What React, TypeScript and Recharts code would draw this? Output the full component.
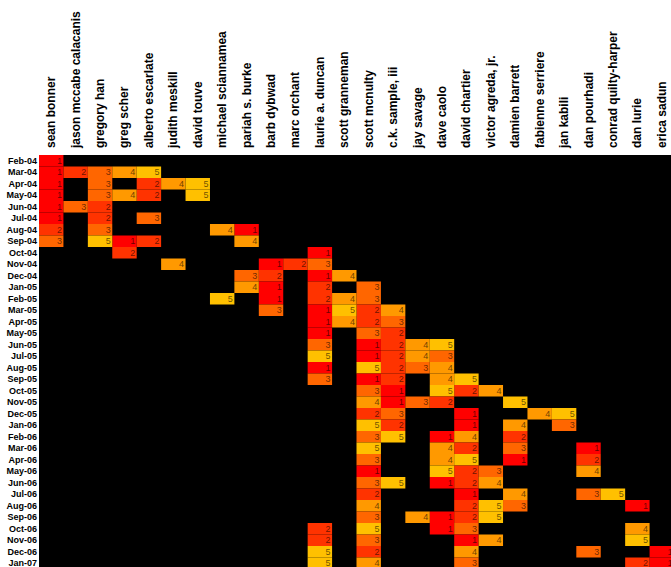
import React from 'react';
import { ComposedChart, XAxis, YAxis, ReferenceArea } from 'recharts';

const authors = [
  'sean bonner', 'jason mccabe calacanis', 'gregory han', 'greg scher', 'alberto escarlate',
  'judith meskill', 'david touve', 'michael sciannamea', 'pariah s. burke', 'barb dybwad',
  'marc orchant', 'laurie a. duncan', 'scott granneman', 'scott mcnulty', 'c.k. sample, iii',
  'jay savage', 'dave caolo', 'david chartier', 'victor agreda, jr.', 'damien barrett',
  'fabienne serriere', 'jan kabili', 'dan pourhadi', 'conrad quilty-harper', 'dan lurie',
  'erica sadun',
];

const months = [
  'Feb-04', 'Mar-04', 'Apr-04', 'May-04', 'Jun-04', 'Jul-04', 'Aug-04', 'Sep-04', 'Oct-04',
  'Nov-04', 'Dec-04', 'Jan-05', 'Feb-05', 'Mar-05', 'Apr-05', 'May-05', 'Jun-05', 'Jul-05',
  'Aug-05', 'Sep-05', 'Oct-05', 'Nov-05', 'Dec-05', 'Jan-06', 'Feb-06', 'Mar-06', 'Apr-06',
  'May-06', 'Jun-06', 'Jul-06', 'Aug-06', 'Sep-06', 'Oct-06', 'Nov-06', 'Dec-06', 'Jan-07',
];

// For each month: author indices in rank order (rank 1 first)
const topAuthorsByMonth: number[][] = [
  [0],
  [0, 1, 2, 3, 4],
  [0, 4, 2, 5, 6],
  [0, 4, 2, 3, 6],
  [0, 2, 1],
  [0, 2, 4],
  [8, 0, 2, 7],
  [3, 4, 0, 8, 2],
  [11, 3],
  [9, 10, 11, 5],
  [11, 9, 8, 12],
  [9, 11, 13, 8],
  [9, 11, 13, 12, 7],
  [11, 13, 9, 14, 12],
  [11, 13, 14, 12],
  [11, 14, 13],
  [13, 14, 11, 15, 16],
  [13, 14, 16, 15, 11],
  [11, 14, 15, 16, 13],
  [13, 14, 11, 16, 17],
  [14, 17, 13, 18, 16],
  [14, 16, 15, 13, 19],
  [17, 13, 14, 20, 21],
  [17, 14, 21, 19, 13],
  [16, 19, 13, 17, 14],
  [22, 17, 19, 16, 13],
  [19, 22, 13, 16, 17],
  [13, 17, 18, 22, 16],
  [16, 17, 13, 18, 14],
  [17, 13, 22, 19, 23],
  [24, 17, 19, 13, 18],
  [16, 17, 13, 15, 18],
  [16, 11, 17, 24, 13],
  [17, 11, 13, 18, 24],
  [25, 13, 22, 17, 11],
  [25, 24, 17, 13, 11],
];

const rankColors = ['#ff0000', '#ff3300', '#ff6600', '#ff9900', '#ffc000'];

const cells = months.flatMap((m, r) =>
  topAuthorsByMonth[r].map((c, k) => ({ month: m, row: r, col: c, rank: k + 1 }))
);

const xTicks = authors.map((_, i) => i + 0.5);
const yTicks = months.map((_, i) => i + 0.5);

const FONT = '"Liberation Sans", Arial, Helvetica, sans-serif';

const AuthorTick = (props: any) => {
  const { x, y, payload } = props;
  const name = authors[Math.floor(payload.value)];
  const bx = x + 4;
  return (
    <text
      x={bx}
      y={y}
      transform={`rotate(-90, ${bx}, ${y})`}
      textAnchor="start"
      fontSize={12}
      fontWeight="bold"
      fontFamily={FONT}
      fill="#000"
    >
      {name}
    </text>
  );
};

const MonthTick = (props: any) => {
  const { x, y, payload } = props;
  const label = months[Math.floor(payload.value)];
  return (
    <text
      x={x}
      y={y}
      dy={3.2}
      textAnchor="end"
      fontSize={9}
      fontWeight="bold"
      fontFamily={FONT}
      fill="#000"
    >
      {label}
    </text>
  );
};

export default function App() {
  return (
    <div
      style={{
        position: 'absolute',
        left: 0,
        top: 0,
        width: 671,
        height: 567,
        overflow: 'hidden',
        background: '#fff',
      }}
    >
      <ComposedChart
        width={674}
        height={569}
        data={cells}
        margin={{ top: 0, right: 0, bottom: 0, left: 0 }}
      >
        <XAxis
          xAxisId="a"
          dataKey="col"
          type="number"
          orientation="top"
          domain={[0, authors.length]}
          allowDataOverflow
          ticks={xTicks}
          interval={0}
          height={155}
          axisLine={false}
          tickLine={false}
          tickSize={0}
          tickMargin={7}
          tick={<AuthorTick />}
        />
        <YAxis
          yAxisId="m"
          dataKey="row"
          type="number"
          reversed
          domain={[0, months.length]}
          allowDataOverflow
          ticks={yTicks}
          interval={0}
          width={39}
          axisLine={false}
          tickLine={false}
          tickSize={0}
          tickMargin={2}
          tick={<MonthTick />}
        />
        <ReferenceArea
          xAxisId="a"
          yAxisId="m"
          x1={0}
          x2={authors.length}
          y1={0}
          y2={months.length}
          fill="#000"
          fillOpacity={1}
          stroke="none"
        />
        {cells.map((cell) => (
          <ReferenceArea
            key={`${cell.row}-${cell.col}`}
            xAxisId="a"
            yAxisId="m"
            x1={cell.col}
            x2={cell.col + 1}
            y1={cell.row}
            y2={cell.row + 1}
            stroke="none"
            fillOpacity={1}
            fill={rankColors[cell.rank - 1]}
            shape={(p: any) => (
              <g>
                <rect x={p.x} y={p.y} width={p.width} height={p.height} fill={rankColors[cell.rank - 1]} />
                <text
                  x={p.x + p.width - 1.5}
                  y={p.y + p.height / 2 + 3.2}
                  textAnchor="end"
                  fontSize={9}
                  fontFamily={FONT}
                  fill="#000"
                  fillOpacity={0.6}
                >
                  {cell.rank}
                </text>
              </g>
            )}
          />
        ))}
      </ComposedChart>
    </div>
  );
}
